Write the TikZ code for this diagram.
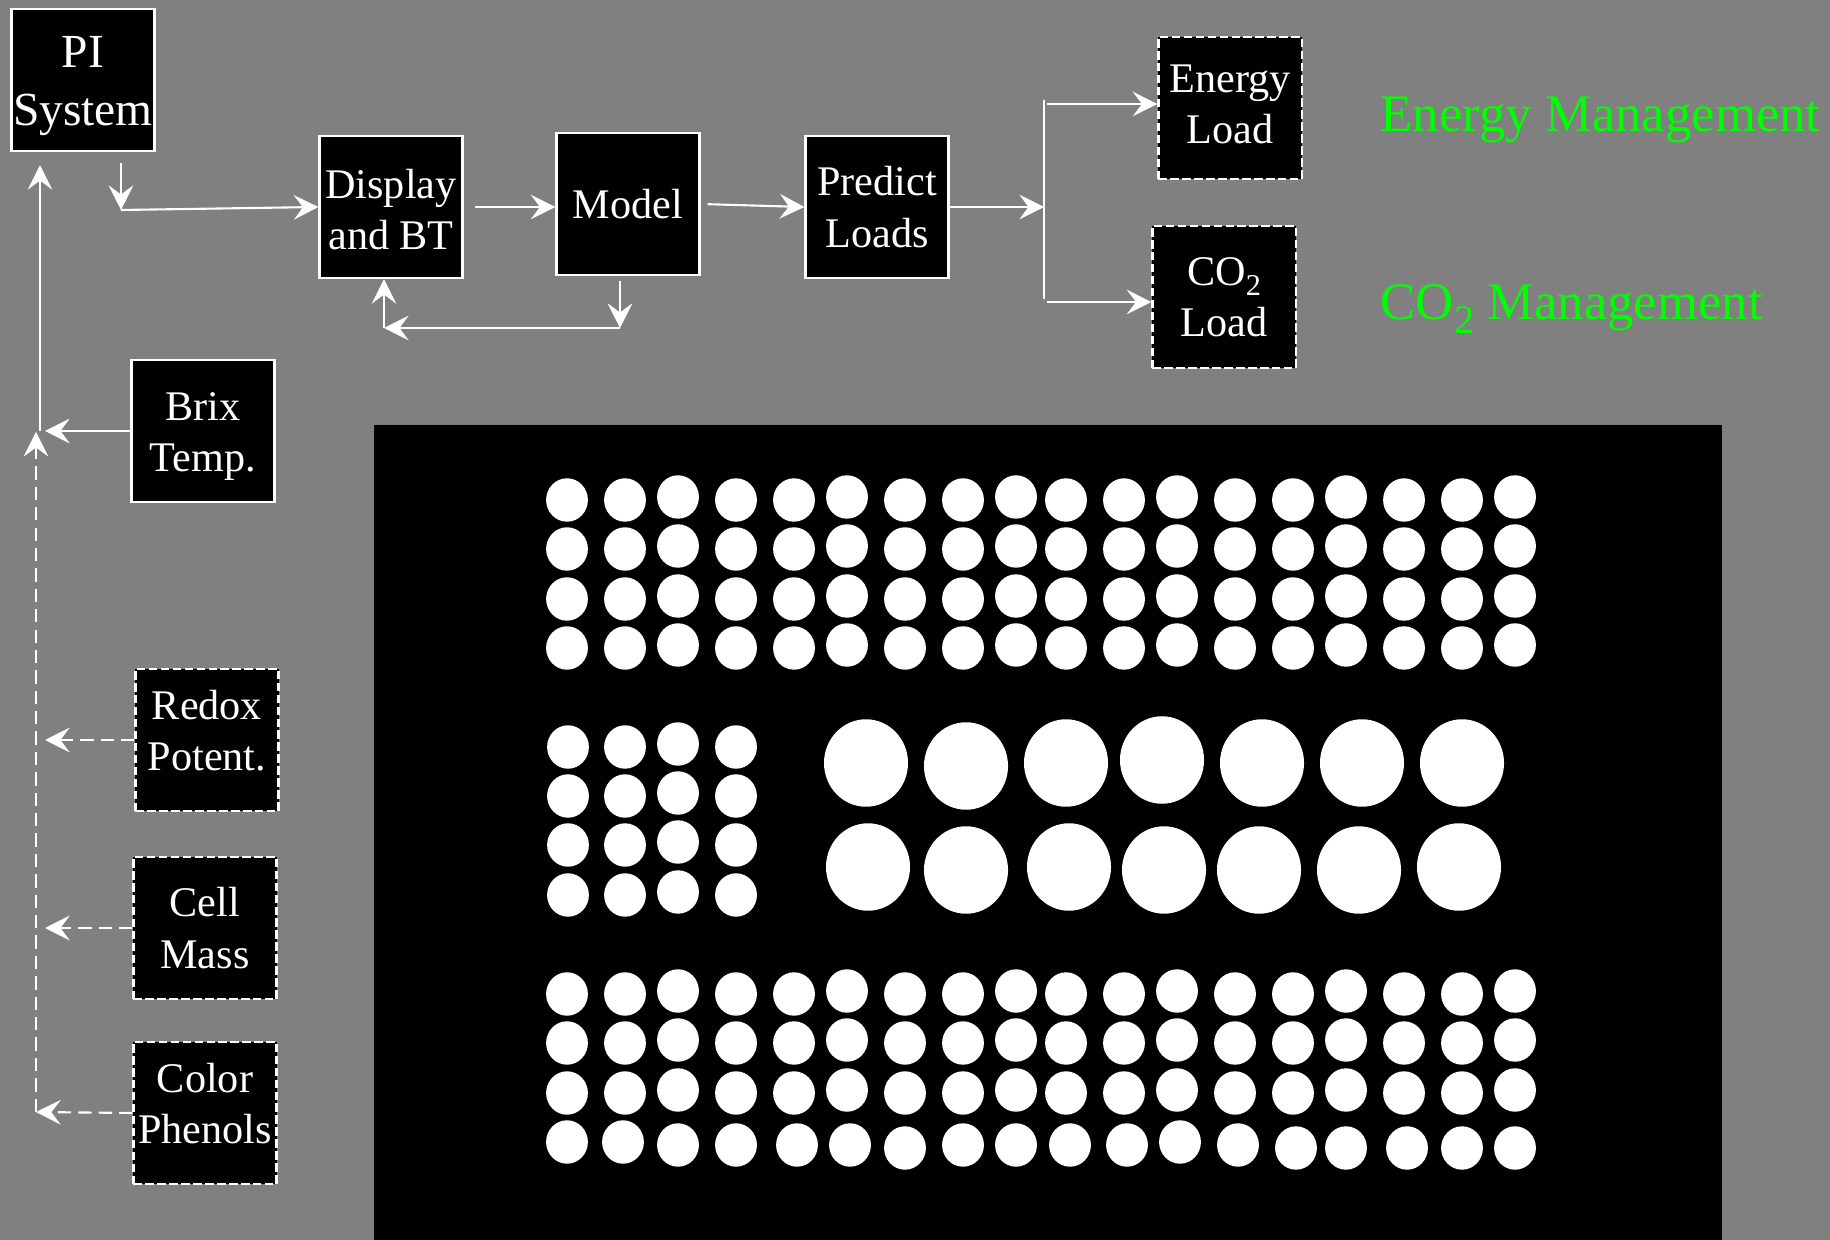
\documentclass[tikz,border=0pt]{standalone}
\usepackage{fontspec}
\setmainfont{Liberation Serif}
\usepackage{xcolor}
\usetikzlibrary{arrows.meta, positioning}
\definecolor{bggray}{RGB}{128,128,128}
\definecolor{mgmtgreen}{RGB}{0,255,0}
\newcommand{\liftby}[2]{\raisebox{#1}[\height][\depth]{#2}}
\newcommand{\subtwo}[2]{\raisebox{#1}{\fontsize{#2}{#2}\selectfont 2}}

\begin{document}
\begin{tikzpicture}[x=0.01cm, y=-0.01cm, >={Stealth[length=7pt, width=7pt, inset=2.6pt]},
    box/.style={draw=white, fill=black, line width=0.6pt, text=white, minimum width=1.43cm, minimum height=1.42cm, inner sep=0pt, align=center, font=\fontsize{12}{14.6}\selectfont},
    dbox/.style={box, dash pattern=on 2.4pt off 1pt},
    arr/.style={->, draw=white, line width=0.6pt},
    darr/.style={arr, dash pattern=on 3.8pt off 2pt},
    mgmt/.style={text=mgmtgreen, anchor=base west, inner sep=0pt, font=\fontsize{15}{18}\selectfont},
    dot/.style={fill=white}]
% Background and panel
\fill[bggray] (0,0) rectangle (1830,1240);
\fill[black] (374,425) rectangle (1722,1240);

% Flow boxes
\node[box, font=\fontsize{13.5}{16.4}\selectfont] (pi) at (83,80) {\liftby{-1.7pt}{PI}\\\liftby{-1.7pt}{System}};
\node[box] (disp) at (391,207) {\liftby{-0.8pt}{Display}\\\liftby{-0.8pt}{and BT}};
\node[box] (model) at (628,204) {Model};
\node[box] (pred) at (877,207) {Predict\\Loads};
\node[dbox] (energy) at (1230,108) {\liftby{1pt}{Energy}\\\liftby{1pt}{Load}};
\node[dbox] (co2) at (1224,297) {CO\subtwo{-3pt}{8.6}\\Load};

% Sensor boxes
\node[box] (brix) at (203,431) {\liftby{-1.5pt}{Brix}\\\liftby{-1.5pt}{Temp.}};
\node[dbox] (redox) at (207,740) {\liftby{2.6pt}{Redox}\\\liftby{2.6pt}{Potent.}};
\node[dbox] (cell) at (205,928) {Cell\\Mass};
\node[dbox] (color) at (205,1113) {\liftby{2.6pt}{Color}\\\liftby{2.6pt}{Phenols}};

% Labels
\node[mgmt] (emgmt) at (1380,132) {Energy Management};
\node[mgmt] (cmgmt) at (1380,320) {CO\subtwo{-3.7pt}{11.5} Management};

% Junctions
\coordinate (pidrop) at (121,163);
\coordinate (pijoin) at (121,210);
\coordinate (mdrop) at (620,281);
\coordinate (mloop) at (620,328);
\coordinate (dloop) at (384,328);
\coordinate (split) at (1044,210);
\coordinate (stop) at (1044,100);
\coordinate (sbot) at (1044,299);
\coordinate (eout) at (1047,104);
\coordinate (cout) at (1047,302);
\coordinate (bjoin) at (40,431);
\coordinate (dtop) at (36,432);
\coordinate (dbot) at (36,1112);

% Top connectors
\draw[arr] (pidrop) -- (pijoin);
\draw[arr] (pijoin) -- (disp.west);
\draw[arr, shorten <=0.11cm] (disp.east) -- (disp.east -| model.west);
\draw[arr, shorten <=0.07cm] (model.east) -- (pred.west);
\draw[arr] (mdrop) -- (mloop);
\draw[arr] (mloop) -- (dloop);
\draw[arr] (dloop) -- (dloop |- disp.south);
\draw[arr] (pred.east) -- (pred.east -| split);
\draw[white, line width=0.6pt] (stop) -- (sbot);
\draw[arr] (eout) -- (eout -| energy.west);
\draw[arr] (cout) -- (cout -| co2.west);

% Left feedback
\draw[arr, shorten >=0.13cm] (bjoin) -- (bjoin |- pi.south);
\draw[arr, shorten >=0.05cm] (brix.west) -- (bjoin);
\draw[darr] (dbot) -- (dtop);
\draw[darr, shorten >=0.09cm] (redox.west) -- (redox.west -| dbot);
\draw[darr, shorten >=0.09cm] (cell.west) -- (cell.west -| dbot);
\draw[darr] (color.west) -- (dbot);

% Small dots, top and bottom blocks
\foreach \y in {500,549,599,648,994,1043,1093} {
    \foreach \x/\dy in {567/0, 625/0, 678/-3, 736/0, 794/0, 847/-3, 905/0, 963/0, 1016/-3,
                        1066/0, 1124/0, 1177/-3, 1235/0, 1293/0, 1346/-3, 1404/0, 1462/0, 1515/-3} {
        \fill[dot] (\x,\y+\dy) ellipse [x radius=0.209cm, y radius=0.217cm];
    }
}
% last row is uneven
\foreach \x/\y in {567/1142, 623/1142, 678/1145, 736/1145, 797/1145, 850/1145, 905/1148, 963/1145, 1016/1145,
                   1070/1145, 1127/1145, 1180/1142, 1238/1145, 1296/1148, 1346/1148, 1407/1148, 1462/1148, 1515/1148} {
    \fill[dot] (\x,\y) ellipse [x radius=0.209cm, y radius=0.217cm];
}

% Small dots, middle block
\foreach \y in {747,796,845,895} {
    \foreach \x/\dy in {568/0, 625/0, 678/-3, 736/0} {
        \fill[dot] (\x,\y+\dy) ellipse [x radius=0.209cm, y radius=0.217cm];
    }
}

% Large dots
\foreach \x/\y in {866/763, 966/766, 1066/763, 1162/760, 1262/763, 1362/763, 1462/763,
                   868/867, 966/870, 1069/867, 1164/870, 1259/870, 1359/870, 1459/867} {
    \fill[dot] (\x,\y) ellipse [x radius=0.42cm, y radius=0.437cm];
}

\end{tikzpicture}
\end{document}
